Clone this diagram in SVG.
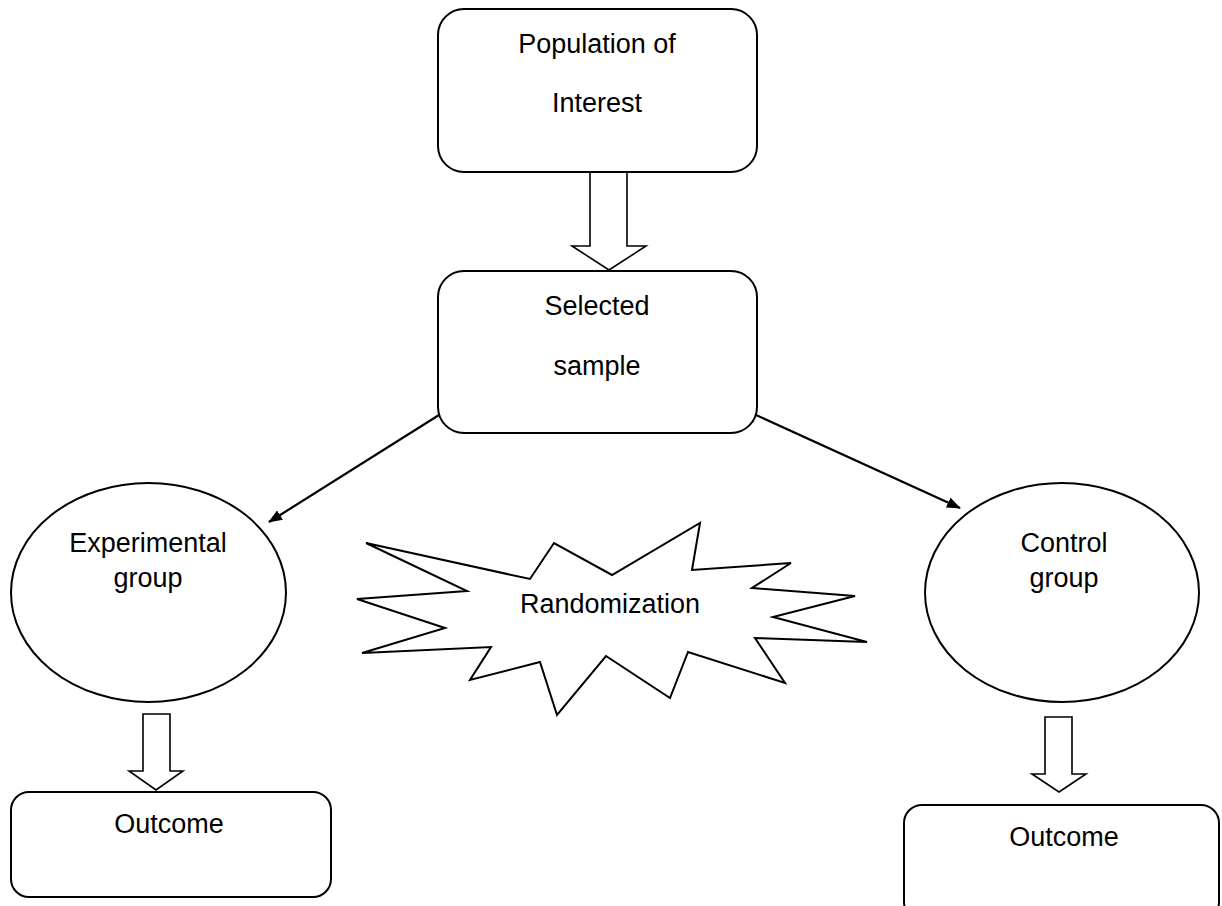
<svg xmlns="http://www.w3.org/2000/svg" width="1222" height="906" viewBox="0 0 1222 906">
<style>
.box{fill:#fff;stroke:#000;stroke-width:2}
.hol{fill:#fff;stroke:#000;stroke-width:1.6;stroke-linejoin:miter}
.t{font-family:"Liberation Sans",Arial,sans-serif;font-size:27px;fill:#000;text-anchor:middle}
.con{stroke:#000;stroke-width:2.2;fill:none}
</style>
<defs>
<marker id="ah" markerUnits="userSpaceOnUse" markerWidth="14" markerHeight="11" refX="13" refY="5.5" orient="auto">
<path d="M0,0 L14,5.5 L0,11 z" fill="#000"/>
</marker>
</defs>
<rect width="1222" height="906" fill="#fff"/>
<g id="connectors">
<path class="hol" d="M590,172 L627,172 L627,246 L646,246 L609,270 L572,246 L590,246 Z"/>
<path class="hol" d="M143,714 L170,714 L170,771 L183,771 L156,790 L129,771 L143,771 Z"/>
<path class="hol" d="M1045,717 L1072,717 L1072,774 L1086,774 L1059,792 L1032,774 L1045,774 Z"/>
<line class="con" x1="439" y1="415" x2="269" y2="522" marker-end="url(#ah)"/>
<line class="con" x1="756" y1="415" x2="960" y2="508" marker-end="url(#ah)"/>
</g>
<g id="population">
<rect class="box" x="438" y="9" width="319" height="163" rx="26"/>
<text class="t" x="597" y="53">Population of</text>
<text class="t" x="597" y="112">Interest</text>
</g>
<g id="sample">
<rect class="box" x="438" y="271" width="319" height="162" rx="26"/>
<text class="t" x="597" y="315">Selected</text>
<text class="t" x="597" y="375">sample</text>
</g>
<g id="experimental">
<ellipse class="box" cx="148.5" cy="592.5" rx="137.5" ry="109.5"/>
<text class="t" x="148" y="552">Experimental</text>
<text class="t" x="148" y="587">group</text>
</g>
<g id="control">
<ellipse class="box" cx="1062" cy="592.5" rx="137" ry="109.5"/>
<text class="t" x="1064" y="552">Control</text>
<text class="t" x="1064" y="587">group</text>
</g>
<g id="randomization">
<polygon class="box" points="366,543 530,579 554,543 612,575 700,523 692,570 791,563 752,588 855,596 773,617 867,642 755,638 785,683 688,652 670,698 606,656 557,715 540,662 470,680 491,647 362,653 445,628 357,599 467,591"/>
<text class="t" x="610" y="613">Randomization</text>
</g>
<g id="outcome-exp">
<rect class="box" x="11" y="792" width="320" height="105" rx="18"/>
<text class="t" x="169" y="833">Outcome</text>
</g>
<g id="outcome-ctrl">
<rect class="box" x="904" y="805" width="315" height="115" rx="18"/>
<text class="t" x="1064" y="846">Outcome</text>
</g>
</svg>
